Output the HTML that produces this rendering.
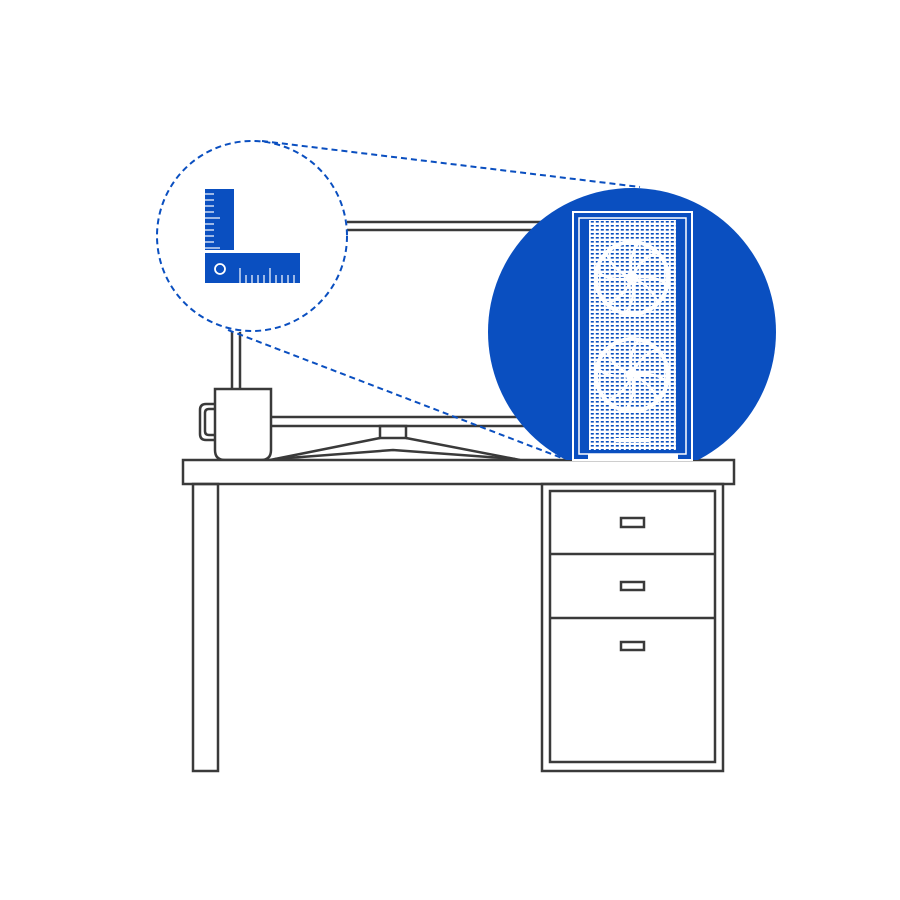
<!DOCTYPE html>
<html><head><meta charset="utf-8"><style>
html,body{margin:0;padding:0;background:#fff;}
svg{display:block;}
</style></head><body>
<svg width="900" height="900" viewBox="0 0 900 900" xmlns="http://www.w3.org/2000/svg">
<defs>
<pattern id="mesh" width="5" height="4" patternUnits="userSpaceOnUse">
<rect width="5" height="4" fill="#fff"/>
<rect x="0.8" y="1" width="3" height="1.6" fill="#0a4fc0"/>
</pattern>
<clipPath id="cl"><rect x="0" y="0" width="900" height="460"/></clipPath>
</defs>
<g fill="none" stroke="#3a3a3a" stroke-width="2.5">
<line x1="347" y1="222" x2="545" y2="222"/>
<line x1="347" y1="230" x2="545" y2="230"/>
<line x1="232" y1="332" x2="232" y2="390"/>
<line x1="240" y1="332" x2="240" y2="390"/>
<line x1="271" y1="417" x2="525" y2="417"/>
<line x1="271" y1="426" x2="525" y2="426"/>
<rect x="380" y="426" width="26" height="12"/>
<polyline points="270,460 380,438"/>
<polyline points="406,438 520,460"/>
<polyline points="275,459 393,450 515,459"/>
<path d="M215,389 H271 V450 Q271,460 261,460 H225 Q215,460 215,450 Z" fill="#fff"/>
<path d="M215,404 H206 Q200,404 200,410 V434 Q200,440 206,440 H215"/>
<path d="M215,409 H209 Q205,409 205,413 V431 Q205,435 209,435 H215"/>
<rect x="183" y="460" width="551" height="24" fill="#fff"/>
<rect x="193" y="484" width="25" height="287"/>
<rect x="542" y="484" width="181" height="287"/>
<rect x="550" y="491" width="165" height="271"/>
<line x1="550" y1="554" x2="715" y2="554"/>
<line x1="550" y1="618" x2="715" y2="618"/>
<rect x="621" y="518" width="23" height="9"/>
<rect x="621" y="582" width="23" height="8"/>
<rect x="621" y="642" width="23" height="8"/>
</g>
<g fill="none" stroke="#0a4fc0" stroke-width="2" stroke-dasharray="6,4">
<circle cx="252" cy="236" r="95"/>
<line x1="262" y1="141" x2="640" y2="187"/>
<line x1="228" y1="330" x2="562" y2="458"/>
</g>
<g fill="#0a4fc0">
<rect x="205" y="189" width="29" height="61"/>
<rect x="205" y="253" width="95" height="30"/>
</g>
<g stroke="#fff" stroke-width="1.2">
<line x1="205" y1="194" x2="214" y2="194"/><line x1="205" y1="200" x2="214" y2="200"/>
<line x1="205" y1="206" x2="214" y2="206"/><line x1="205" y1="212" x2="214" y2="212"/>
<line x1="205" y1="218" x2="220" y2="218"/><line x1="205" y1="224" x2="214" y2="224"/>
<line x1="205" y1="230" x2="214" y2="230"/><line x1="205" y1="236" x2="214" y2="236"/>
<line x1="205" y1="242" x2="214" y2="242"/><line x1="205" y1="248" x2="220" y2="248"/>
<line x1="240" y1="268" x2="240" y2="283"/><line x1="246" y1="275" x2="246" y2="283"/>
<line x1="252" y1="275" x2="252" y2="283"/><line x1="258" y1="275" x2="258" y2="283"/>
<line x1="264" y1="275" x2="264" y2="283"/><line x1="270" y1="268" x2="270" y2="283"/>
<line x1="276" y1="275" x2="276" y2="283"/><line x1="282" y1="275" x2="282" y2="283"/>
<line x1="288" y1="275" x2="288" y2="283"/><line x1="294" y1="275" x2="294" y2="283"/>
</g>
<circle cx="220" cy="269" r="5" fill="none" stroke="#fff" stroke-width="1.8"/>
<g clip-path="url(#cl)">
<circle cx="632" cy="332" r="144" fill="#0a4fc0"/>
</g>
<g>
<rect x="573" y="212" width="119" height="248" fill="none" stroke="#fff" stroke-width="2"/>
<rect x="579" y="218" width="107" height="236" fill="none" stroke="#fff" stroke-width="1.5"/>
<rect x="589" y="220" width="87" height="230" fill="url(#mesh)"/>
<g fill="none" stroke="#fff" stroke-width="4">
<circle cx="632" cy="278" r="36"/>
<circle cx="632" cy="375" r="36"/>
</g>
<g fill="none" stroke="#fff" stroke-width="2.5">
<path d="M632,278 q-20,-8 -26,-26 M632,278 q8,-20 26,-26 M632,278 q20,8 26,26 M632,278 q-8,20 -26,26 M632,278 q-22,4 -34,-6 M632,278 q4,22 -6,34 M632,278 q22,-4 34,6 M632,278 q-4,-22 6,-34"/>
<path d="M632,375 q-20,-8 -26,-26 M632,375 q8,-20 26,-26 M632,375 q20,8 26,26 M632,375 q-8,20 -26,26 M632,375 q-22,4 -34,-6 M632,375 q4,22 -6,34 M632,375 q22,-4 34,6 M632,375 q-4,-22 6,-34"/>
<circle cx="632" cy="278" r="5"/><circle cx="632" cy="375" r="5"/>
</g>
<rect x="614" y="438" width="36" height="4" fill="#fff"/>
<rect x="588" y="454" width="90" height="6" fill="#fff"/>
</g>
</svg>
</body></html>
